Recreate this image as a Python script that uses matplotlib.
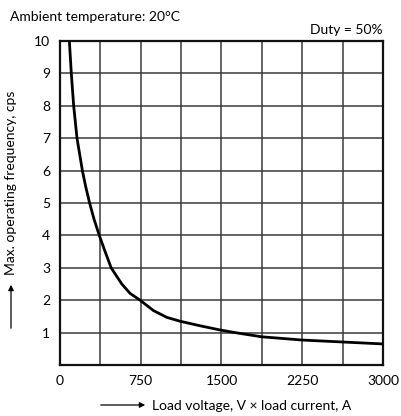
import matplotlib.pyplot as plt

# curve
load = [87, 105, 127, 158, 208, 239, 275, 316, 365, 419, 475, 574, 651, 744,
        868, 992, 1116, 1302, 1488, 1643, 1875, 2250, 2625, 3000]
freq = [10, 9, 8, 7, 6, 5.5, 5, 4.5, 4, 3.5, 3, 2.5, 2.21, 2.0,
        1.68, 1.47, 1.35, 1.21, 1.08, 0.99, 0.87, 0.77, 0.71, 0.65]

xticks = [0, 750, 1500, 2250, 3000]
yticks = [1, 2, 3, 4, 5, 6, 7, 8, 9, 10]
xgrid = [375, 750, 1125, 1500, 1875, 2250, 2625]

plt.rcParams['font.family'] = ['Lato', 'DejaVu Sans']
fig = plt.figure(figsize=(4.02, 4.16), dpi=100)
W, H = 402, 416
ax = fig.add_axes([60 / W, 1 - 365 / H, 323 / W, 324 / H])

ax.set_xlim(0, 3000)
ax.set_ylim(0, 10)
for xv in xgrid:
    ax.axvline(xv, color='#3a3a3a', lw=1.1, zorder=1)
for yv in yticks[:-1]:
    ax.axhline(yv, color='#3a3a3a', lw=1.1, zorder=1)

ax.plot(load, freq, color='black', lw=2, zorder=3, solid_joinstyle='round')

ax.set_xticks(xticks)
ax.set_yticks(yticks)
ax.tick_params(length=0, labelsize=10, pad=7)
for s in ax.spines.values():
    s.set_linewidth(1.6)
    s.set_color('#111111')

fs = 10
fig.text(10 / W, 1 - 17 / H, 'Ambient temperature: 20°C', fontsize=fs, va='center', ha='left')
fig.text(383 / W, 1 - 30 / H, 'Duty = 50%', fontsize=fs, va='center', ha='right')

fig.text(11 / W, 1 - 275 / H, 'Max. operating frequency, cps', fontsize=fs,
         rotation=90, va='bottom', ha='center')
fig.text(152 / W, 1 - 406 / H, 'Load voltage, V × load current, A', fontsize=fs,
         va='center', ha='left')

ax.annotate('', xy=(11 / W, 1 - 282 / H), xytext=(11 / W, 1 - 331 / H),
            xycoords='figure fraction', textcoords='figure fraction',
            arrowprops=dict(arrowstyle='-|>', color='black', lw=0.9, mutation_scale=8))
ax.annotate('', xy=(148 / W, 1 - 405 / H), xytext=(98 / W, 1 - 405 / H),
            xycoords='figure fraction', textcoords='figure fraction',
            arrowprops=dict(arrowstyle='-|>', color='black', lw=0.9, mutation_scale=8))

fig.savefig('out.png', dpi=100)
